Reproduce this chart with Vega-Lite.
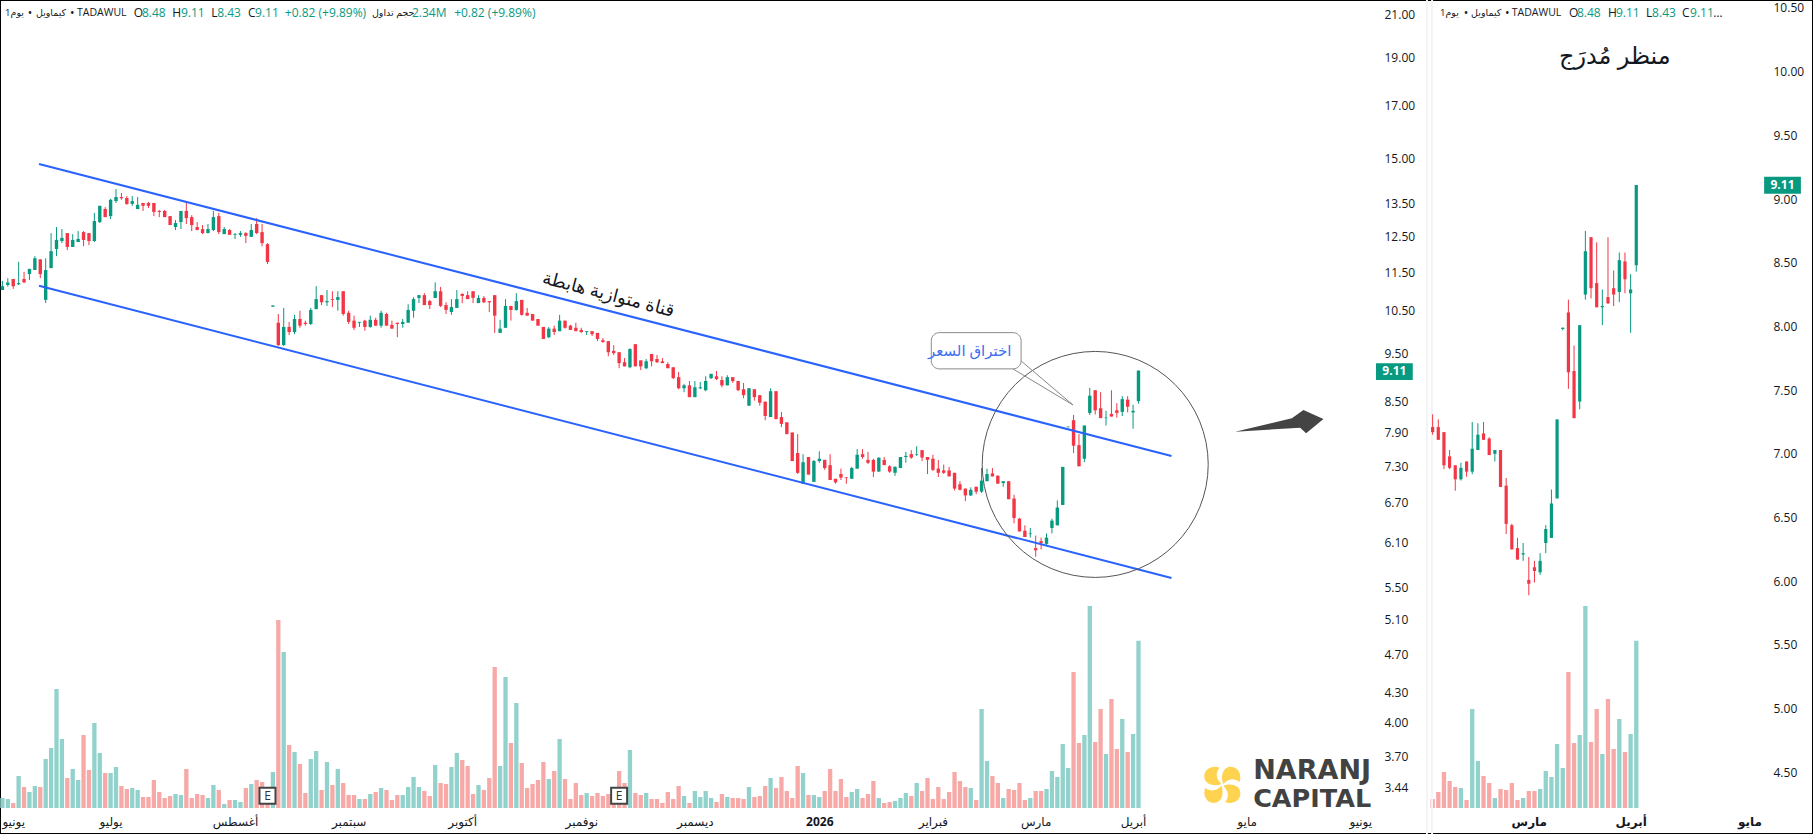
{"$schema":"https://vega.github.io/schema/vega-lite/v6.json","width":1813,"height":834,"padding":0,"autosize":{"type":"none"},"background":"white",
"config":{"font":"Open Sans, DejaVu Sans","view":{"stroke":"#000000","strokeWidth":2},"axis":{"grid":false,"domain":false,"ticks":false,"tickSize":0,"labelFont":"Open Sans, DejaVu Sans","labelFontSize":12,"labelColor":"#131722","labelOverlap":false,"labelFlush":false,"labelBound":false}},
"datasets":{"ohlc":[
{"i":0,"o":11.00,"h":11.24,"l":11.00,"c":11.10,"v":0.14},{"i":1,"o":11.13,"h":11.31,"l":11.09,"c":11.20,"v":0.126},{"i":2,"o":11.29,"h":11.29,"l":11.03,"c":11.10,"v":0.07},{"i":3,"o":11.15,"h":11.75,"l":11.13,"c":11.18,"v":0.448},{"i":4,"o":11.29,"h":11.48,"l":11.18,"c":11.20,"v":0.294},{"i":5,"o":11.42,"h":11.56,"l":11.26,"c":11.56,"v":0.224},{"i":6,"o":11.53,"h":11.91,"l":11.53,"c":11.85,"v":0.308},{"i":7,"o":11.82,"h":11.82,"l":11.31,"c":11.42,"v":0.294},{"i":8,"o":10.75,"h":11.85,"l":10.67,"c":11.53,"v":0.686},{"i":9,"o":11.58,"h":12.57,"l":11.58,"c":12.05,"v":0.84},
{"i":10,"o":12.11,"h":12.75,"l":11.91,"c":12.37,"v":1.666},{"i":11,"o":12.34,"h":12.69,"l":12.28,"c":12.43,"v":0.966},{"i":12,"o":12.57,"h":12.57,"l":12.08,"c":12.17,"v":0.42},{"i":13,"o":12.17,"h":12.54,"l":12.17,"c":12.37,"v":0.546},{"i":14,"o":12.31,"h":12.63,"l":12.31,"c":12.40,"v":0.392},{"i":15,"o":12.60,"h":12.63,"l":12.19,"c":12.37,"v":1.022},{"i":16,"o":12.57,"h":12.57,"l":12.22,"c":12.34,"v":0.532},{"i":17,"o":12.34,"h":13.18,"l":12.31,"c":12.93,"v":1.19},{"i":18,"o":12.90,"h":13.40,"l":12.87,"c":13.40,"v":0.77},{"i":19,"o":13.30,"h":13.36,"l":13.05,"c":13.05,"v":0.49},
{"i":20,"o":13.08,"h":13.62,"l":12.99,"c":13.59,"v":0.49},{"i":21,"o":13.55,"h":13.94,"l":13.49,"c":13.68,"v":0.574},{"i":22,"o":13.68,"h":13.81,"l":13.59,"c":13.64,"v":0.308},{"i":23,"o":13.65,"h":13.71,"l":13.43,"c":13.46,"v":0.266},{"i":24,"o":13.46,"h":13.71,"l":13.40,"c":13.55,"v":0.28},{"i":25,"o":13.30,"h":13.68,"l":13.30,"c":13.43,"v":0.252},{"i":26,"o":13.49,"h":13.49,"l":13.24,"c":13.40,"v":0.154},{"i":27,"o":13.49,"h":13.52,"l":13.33,"c":13.40,"v":0.154},{"i":28,"o":13.49,"h":13.49,"l":13.08,"c":13.21,"v":0.392},{"i":29,"o":13.24,"h":13.27,"l":13.05,"c":13.21,"v":0.224},
{"i":30,"o":13.24,"h":13.27,"l":13.05,"c":13.05,"v":0.14},{"i":31,"o":13.08,"h":13.08,"l":12.81,"c":12.81,"v":0.168},{"i":32,"o":12.75,"h":12.96,"l":12.66,"c":12.87,"v":0.196},{"i":33,"o":12.90,"h":13.24,"l":12.69,"c":13.24,"v":0.182},{"i":34,"o":13.24,"h":13.52,"l":12.84,"c":13.02,"v":0.546},{"i":35,"o":13.05,"h":13.11,"l":12.63,"c":12.81,"v":0.14},{"i":36,"o":12.75,"h":12.90,"l":12.66,"c":12.66,"v":0.196},{"i":37,"o":12.69,"h":12.81,"l":12.54,"c":12.57,"v":0.182},{"i":38,"o":12.57,"h":12.84,"l":12.57,"c":12.69,"v":0.14},{"i":39,"o":12.66,"h":13.24,"l":12.63,"c":13.05,"v":0.322},
{"i":40,"o":13.08,"h":13.18,"l":12.54,"c":12.60,"v":0.252},{"i":41,"o":12.54,"h":12.75,"l":12.54,"c":12.69,"v":0.056},{"i":42,"o":12.66,"h":12.69,"l":12.52,"c":12.52,"v":0.112},{"i":43,"o":12.52,"h":12.57,"l":12.40,"c":12.54,"v":0.112},{"i":44,"o":12.52,"h":12.63,"l":12.46,"c":12.57,"v":0.084},{"i":45,"o":12.57,"h":12.60,"l":12.28,"c":12.49,"v":0.28},{"i":46,"o":12.46,"h":12.84,"l":12.46,"c":12.66,"v":0.336},{"i":47,"o":12.84,"h":13.02,"l":12.54,"c":12.57,"v":0.392},{"i":48,"o":12.60,"h":12.84,"l":12.19,"c":12.28,"v":0.364},{"i":49,"o":12.25,"h":12.28,"l":11.69,"c":11.75,"v":0.275},
{"i":50,"o":10.58,"h":10.61,"l":10.58,"c":10.61,"v":0.504},{"i":51,"o":10.19,"h":10.40,"l":9.65,"c":9.67,"v":2.632},{"i":52,"o":9.67,"h":10.55,"l":9.65,"c":10.09,"v":2.184},{"i":53,"o":10.09,"h":10.21,"l":9.90,"c":9.97,"v":0.882},{"i":54,"o":9.97,"h":10.38,"l":9.92,"c":10.28,"v":0.784},{"i":55,"o":10.28,"h":10.48,"l":10.07,"c":10.12,"v":0.616},{"i":56,"o":10.19,"h":10.24,"l":10.12,"c":10.16,"v":0.21},{"i":57,"o":10.16,"h":10.55,"l":10.14,"c":10.50,"v":0.686},{"i":58,"o":10.52,"h":11.10,"l":10.52,"c":10.77,"v":0.798},{"i":59,"o":10.87,"h":10.87,"l":10.62,"c":10.69,"v":0.252},
{"i":60,"o":10.69,"h":11.00,"l":10.60,"c":10.72,"v":0.644},{"i":61,"o":10.77,"h":10.97,"l":10.57,"c":10.75,"v":0.322},{"i":62,"o":10.75,"h":10.97,"l":10.48,"c":10.82,"v":0.546},{"i":63,"o":10.97,"h":10.97,"l":10.36,"c":10.40,"v":0.35},{"i":64,"o":10.43,"h":10.48,"l":10.16,"c":10.21,"v":0.182},{"i":65,"o":10.24,"h":10.36,"l":10.02,"c":10.07,"v":0.182},{"i":66,"o":10.19,"h":10.21,"l":10.09,"c":10.21,"v":0.126},{"i":67,"o":10.24,"h":10.26,"l":10.00,"c":10.09,"v":0.126},{"i":68,"o":10.09,"h":10.36,"l":10.07,"c":10.26,"v":0.196},{"i":69,"o":10.26,"h":10.31,"l":10.12,"c":10.12,"v":0.224},
{"i":70,"o":10.12,"h":10.48,"l":10.07,"c":10.43,"v":0.28},{"i":71,"o":10.40,"h":10.43,"l":10.12,"c":10.12,"v":0.252},{"i":72,"o":10.14,"h":10.24,"l":10.05,"c":10.05,"v":0.112},{"i":73,"o":10.19,"h":10.19,"l":9.85,"c":10.16,"v":0.182},{"i":74,"o":10.16,"h":10.28,"l":10.07,"c":10.21,"v":0.182},{"i":75,"o":10.19,"h":10.64,"l":10.19,"c":10.50,"v":0.294},{"i":76,"o":10.48,"h":10.82,"l":10.31,"c":10.77,"v":0.434},{"i":77,"o":10.80,"h":10.87,"l":10.67,"c":10.87,"v":0.294},{"i":78,"o":10.87,"h":10.92,"l":10.62,"c":10.62,"v":0.238},{"i":79,"o":10.72,"h":10.75,"l":10.52,"c":10.62,"v":0.168},
{"i":80,"o":10.80,"h":11.20,"l":10.80,"c":10.97,"v":0.602},{"i":81,"o":10.97,"h":11.08,"l":10.57,"c":10.60,"v":0.35},{"i":82,"o":10.62,"h":10.69,"l":10.40,"c":10.50,"v":0.336},{"i":83,"o":10.45,"h":10.77,"l":10.38,"c":10.57,"v":0.574},{"i":84,"o":10.55,"h":11.00,"l":10.55,"c":10.77,"v":0.77},{"i":85,"o":10.90,"h":10.92,"l":10.67,"c":10.85,"v":0.672},{"i":86,"o":10.87,"h":10.97,"l":10.77,"c":10.77,"v":0.588},{"i":87,"o":10.97,"h":10.97,"l":10.67,"c":10.80,"v":0.196},{"i":88,"o":10.67,"h":10.87,"l":10.67,"c":10.80,"v":0.322},{"i":89,"o":10.80,"h":10.85,"l":10.67,"c":10.69,"v":0.252},
{"i":90,"o":10.72,"h":10.72,"l":10.45,"c":10.69,"v":0.42},{"i":91,"o":10.87,"h":10.87,"l":9.95,"c":10.36,"v":1.974},{"i":92,"o":9.95,"h":10.26,"l":9.95,"c":10.05,"v":0.588},{"i":93,"o":10.07,"h":10.77,"l":10.07,"c":10.60,"v":1.834},{"i":94,"o":10.60,"h":10.60,"l":10.24,"c":10.50,"v":0.91},{"i":95,"o":10.50,"h":10.92,"l":10.48,"c":10.72,"v":1.47},{"i":96,"o":10.75,"h":10.75,"l":10.36,"c":10.38,"v":0.63},{"i":97,"o":10.43,"h":10.55,"l":10.36,"c":10.36,"v":0.28},{"i":98,"o":10.40,"h":10.40,"l":10.24,"c":10.24,"v":0.336},{"i":99,"o":10.28,"h":10.28,"l":10.12,"c":10.12,"v":0.392},
{"i":100,"o":10.09,"h":10.09,"l":9.81,"c":9.81,"v":0.644},{"i":101,"o":9.85,"h":10.09,"l":9.83,"c":10.05,"v":0.406},{"i":102,"o":10.05,"h":10.12,"l":9.90,"c":9.97,"v":0.518},{"i":103,"o":9.99,"h":10.38,"l":9.99,"c":10.24,"v":0.966},{"i":104,"o":10.24,"h":10.24,"l":10.05,"c":10.07,"v":0.406},{"i":105,"o":10.12,"h":10.14,"l":10.02,"c":10.02,"v":0.126},{"i":106,"o":10.07,"h":10.19,"l":9.99,"c":9.99,"v":0.35},{"i":107,"o":10.02,"h":10.07,"l":9.95,"c":9.97,"v":0.182},{"i":108,"o":9.97,"h":9.99,"l":9.90,"c":9.99,"v":0.21},{"i":109,"o":9.99,"h":9.99,"l":9.88,"c":9.92,"v":0.168},
{"i":110,"o":9.95,"h":9.95,"l":9.76,"c":9.81,"v":0.21},{"i":111,"o":9.78,"h":9.83,"l":9.72,"c":9.74,"v":0.168},{"i":112,"o":9.76,"h":9.76,"l":9.42,"c":9.51,"v":0.196},{"i":113,"o":9.54,"h":9.67,"l":9.45,"c":9.49,"v":0.065},{"i":114,"o":9.51,"h":9.51,"l":9.16,"c":9.27,"v":0.518},{"i":115,"o":9.29,"h":9.38,"l":9.20,"c":9.20,"v":0.35},{"i":116,"o":9.18,"h":9.60,"l":9.16,"c":9.58,"v":0.812},{"i":117,"o":9.69,"h":9.69,"l":9.20,"c":9.20,"v":0.21},{"i":118,"o":9.33,"h":9.33,"l":9.12,"c":9.20,"v":0.182},{"i":119,"o":9.16,"h":9.36,"l":9.14,"c":9.31,"v":0.21},
{"i":120,"o":9.47,"h":9.47,"l":9.20,"c":9.31,"v":0.126},{"i":121,"o":9.36,"h":9.45,"l":9.27,"c":9.29,"v":0.126},{"i":122,"o":9.31,"h":9.38,"l":9.27,"c":9.27,"v":0.07},{"i":123,"o":9.25,"h":9.29,"l":9.16,"c":9.16,"v":0.224},{"i":124,"o":9.18,"h":9.18,"l":8.93,"c":8.95,"v":0.126},{"i":125,"o":8.97,"h":9.08,"l":8.72,"c":8.74,"v":0.308},{"i":126,"o":8.74,"h":8.83,"l":8.66,"c":8.80,"v":0.168},{"i":127,"o":8.80,"h":8.89,"l":8.56,"c":8.56,"v":0.07},{"i":128,"o":8.56,"h":8.89,"l":8.56,"c":8.76,"v":0.238},{"i":129,"o":8.74,"h":8.87,"l":8.72,"c":8.76,"v":0.154},
{"i":130,"o":8.70,"h":8.99,"l":8.68,"c":8.89,"v":0.238},{"i":131,"o":8.95,"h":9.04,"l":8.93,"c":9.04,"v":0.14},{"i":132,"o":8.99,"h":9.10,"l":8.91,"c":8.93,"v":0.084},{"i":133,"o":8.91,"h":8.99,"l":8.76,"c":8.80,"v":0.196},{"i":134,"o":8.80,"h":9.01,"l":8.80,"c":8.97,"v":0.154},{"i":135,"o":8.97,"h":8.97,"l":8.85,"c":8.89,"v":0.14},{"i":136,"o":8.89,"h":8.89,"l":8.68,"c":8.70,"v":0.14},{"i":137,"o":8.72,"h":8.85,"l":8.54,"c":8.60,"v":0.126},{"i":138,"o":8.39,"h":8.74,"l":8.39,"c":8.74,"v":0.294},{"i":139,"o":8.72,"h":8.72,"l":8.49,"c":8.56,"v":0.154},
{"i":140,"o":8.60,"h":8.60,"l":8.39,"c":8.45,"v":0.168},{"i":141,"o":8.47,"h":8.47,"l":8.11,"c":8.19,"v":0.308},{"i":142,"o":8.17,"h":8.74,"l":8.17,"c":8.68,"v":0.42},{"i":143,"o":8.68,"h":8.68,"l":8.13,"c":8.13,"v":0.28},{"i":144,"o":8.17,"h":8.27,"l":7.98,"c":8.04,"v":0.434},{"i":145,"o":8.07,"h":8.07,"l":7.85,"c":7.85,"v":0.238},{"i":146,"o":7.88,"h":7.88,"l":7.37,"c":7.37,"v":0.14},{"i":147,"o":7.51,"h":7.85,"l":7.15,"c":7.17,"v":0.588},{"i":148,"o":6.99,"h":7.49,"l":6.99,"c":7.35,"v":0.49},{"i":149,"o":7.44,"h":7.44,"l":7.14,"c":7.14,"v":0.182},
{"i":150,"o":7.02,"h":7.39,"l":7.02,"c":7.37,"v":0.182},{"i":151,"o":7.37,"h":7.54,"l":7.34,"c":7.41,"v":0.154},{"i":152,"o":7.39,"h":7.39,"l":7.22,"c":7.25,"v":0.238},{"i":153,"o":7.30,"h":7.49,"l":7.05,"c":7.05,"v":0.546},{"i":154,"o":7.07,"h":7.07,"l":6.99,"c":7.01,"v":0.238},{"i":155,"o":7.15,"h":7.24,"l":7.05,"c":7.09,"v":0.406},{"i":156,"o":7.10,"h":7.10,"l":6.99,"c":7.09,"v":0.154},{"i":157,"o":7.07,"h":7.27,"l":7.07,"c":7.25,"v":0.224},{"i":158,"o":7.24,"h":7.58,"l":7.24,"c":7.48,"v":0.266},{"i":159,"o":7.49,"h":7.58,"l":7.41,"c":7.44,"v":0.14},
{"i":160,"o":7.39,"h":7.53,"l":7.32,"c":7.34,"v":0.196},{"i":161,"o":7.39,"h":7.41,"l":7.10,"c":7.19,"v":0.378},{"i":162,"o":7.19,"h":7.43,"l":7.19,"c":7.43,"v":0.14},{"i":163,"o":7.39,"h":7.44,"l":7.30,"c":7.30,"v":0.07},{"i":164,"o":7.28,"h":7.30,"l":7.17,"c":7.19,"v":0.084},{"i":165,"o":7.17,"h":7.28,"l":7.12,"c":7.27,"v":0.098},{"i":166,"o":7.25,"h":7.44,"l":7.25,"c":7.44,"v":0.14},{"i":167,"o":7.44,"h":7.53,"l":7.34,"c":7.46,"v":0.21},{"i":168,"o":7.49,"h":7.56,"l":7.41,"c":7.43,"v":0.168},{"i":169,"o":7.48,"h":7.63,"l":7.46,"c":7.49,"v":0.35},
{"i":170,"o":7.56,"h":7.56,"l":7.37,"c":7.43,"v":0.238},{"i":171,"o":7.44,"h":7.44,"l":7.15,"c":7.39,"v":0.42},{"i":172,"o":7.41,"h":7.48,"l":7.20,"c":7.22,"v":0.126},{"i":173,"o":7.24,"h":7.39,"l":7.10,"c":7.17,"v":0.294},{"i":174,"o":7.21,"h":7.31,"l":7.15,"c":7.17,"v":0.126},{"i":175,"o":7.21,"h":7.27,"l":7.11,"c":7.11,"v":0.224},{"i":176,"o":7.17,"h":7.17,"l":6.88,"c":6.91,"v":0.504},{"i":177,"o":6.98,"h":7.03,"l":6.88,"c":6.89,"v":0.378},{"i":178,"o":6.91,"h":6.91,"l":6.71,"c":6.80,"v":0.294},{"i":179,"o":6.80,"h":6.93,"l":6.79,"c":6.89,"v":0.28},
{"i":180,"o":6.94,"h":6.94,"l":6.82,"c":6.86,"v":0.112},{"i":181,"o":6.86,"h":7.25,"l":6.84,"c":7.04,"v":1.386},{"i":182,"o":7.03,"h":7.24,"l":7.03,"c":7.15,"v":0.658},{"i":183,"o":7.16,"h":7.25,"l":7.11,"c":7.11,"v":0.448},{"i":184,"o":7.12,"h":7.13,"l":6.99,"c":6.99,"v":0.35},{"i":185,"o":7.00,"h":7.03,"l":6.94,"c":7.03,"v":0.14},{"i":186,"o":7.03,"h":7.03,"l":6.74,"c":6.74,"v":0.266},{"i":187,"o":6.75,"h":6.81,"l":6.37,"c":6.45,"v":0.252},{"i":188,"o":6.44,"h":6.45,"l":6.25,"c":6.25,"v":0.35},{"i":189,"o":6.26,"h":6.34,"l":6.17,"c":6.17,"v":0.112},
{"i":190,"o":6.21,"h":6.30,"l":6.16,"c":6.22,"v":0.14},{"i":191,"o":6.01,"h":6.19,"l":5.89,"c":5.98,"v":0.238},{"i":192,"o":6.11,"h":6.16,"l":5.99,"c":6.08,"v":0.238},{"i":193,"o":6.07,"h":6.22,"l":6.05,"c":6.16,"v":0.266},{"i":194,"o":6.30,"h":6.44,"l":6.22,"c":6.41,"v":0.518},{"i":195,"o":6.34,"h":6.72,"l":6.34,"c":6.61,"v":0.434},{"i":196,"o":6.65,"h":7.27,"l":6.65,"c":7.27,"v":0.896},{"i":197,"o":7.98,"h":7.99,"l":7.97,"c":7.99,"v":0.56},{"i":198,"o":8.11,"h":8.21,"l":7.51,"c":7.64,"v":1.904},{"i":199,"o":7.65,"h":7.85,"l":7.28,"c":7.28,"v":0.91},
{"i":200,"o":7.41,"h":8.01,"l":7.35,"c":8.01,"v":1.022},{"i":201,"o":8.25,"h":8.75,"l":8.21,"c":8.59,"v":2.828},{"i":202,"o":8.70,"h":8.70,"l":8.22,"c":8.30,"v":0.924},{"i":203,"o":8.34,"h":8.66,"l":8.15,"c":8.15,"v":1.386},{"i":204,"o":8.15,"h":8.29,"l":8.01,"c":8.16,"v":0.756},{"i":205,"o":8.23,"h":8.70,"l":8.18,"c":8.18,"v":1.526},{"i":206,"o":8.30,"h":8.44,"l":8.16,"c":8.25,"v":0.826},{"i":207,"o":8.27,"h":8.58,"l":8.19,"c":8.52,"v":1.246},{"i":208,"o":8.51,"h":8.58,"l":8.26,"c":8.37,"v":0.784},{"i":209,"o":8.26,"h":8.41,"l":7.95,"c":8.29,"v":1.036},
{"i":210,"o":8.48,"h":9.11,"l":8.43,"c":9.11,"v":2.34}],
"upper":[{"i":6.77,"p":14.78},{"i":216.1,"p":7.459}],
"lower":[{"i":6.77,"p":11.11},{"i":216.1,"p":5.605}],
"hdrL":[{"label":"1يوم","i":0.5,"p":21.05,"kind":"ar"},{"label":"•","i":4.7,"p":21.05,"kind":"name"},{"label":"كيماويل","i":6.2,"p":21.05,"kind":"ar"},{"label":"•","i":12.5,"p":21.05,"kind":"name"},{"label":"TADAWUL","i":13.8,"p":21.05,"kind":"ticker"},{"label":"O","i":24.3,"p":21.05,"kind":"name"},{"label":"8.48","i":25.8,"p":21.05,"kind":"value"},{"label":"H","i":31.4,"p":21.05,"kind":"name"},{"label":"9.11","i":33.0,"p":21.05,"kind":"value"},{"label":"L","i":38.6,"p":21.05,"kind":"name"},{"label":"8.43","i":39.7,"p":21.05,"kind":"value"},{"label":"C","i":45.4,"p":21.05,"kind":"name"},{"label":"9.11","i":46.7,"p":21.05,"kind":"value"},{"label":"+0.82 (+9.89%)","i":52.2,"p":21.05,"kind":"value"},{"label":"حجم تداول","i":68.3,"p":21.05,"kind":"ar"},{"label":"2.34M","i":75.7,"p":21.05,"kind":"value"},{"label":"+0.82 (+9.89%)","i":83.5,"p":21.05,"kind":"value"}],
"hdrR":[{"label":"1يوم","i":175.3,"p":10.46,"kind":"ar"},{"label":"•","i":179.5,"p":10.46,"kind":"name"},{"label":"كيماويل","i":180.8,"p":10.46,"kind":"ar"},{"label":"•","i":186.8,"p":10.46,"kind":"name"},{"label":"TADAWUL","i":188.0,"p":10.46,"kind":"ticker"},{"label":"O","i":198.1,"p":10.46,"kind":"name"},{"label":"8.48","i":199.5,"p":10.46,"kind":"value"},{"label":"H","i":205.0,"p":10.46,"kind":"name"},{"label":"9.11","i":206.4,"p":10.46,"kind":"value"},{"label":"L","i":211.7,"p":10.46,"kind":"name"},{"label":"8.43","i":212.8,"p":10.46,"kind":"value"},{"label":"C","i":218.1,"p":10.46,"kind":"name"},{"label":"9.11","i":219.5,"p":10.46,"kind":"value"},{"label":"…","i":223.6,"p":10.46,"kind":"name"}],
"earn":[{"i":49,"p":3.366,"label":"E"},{"i":114,"p":3.366,"label":"E"}],
"tail":[{"k":1,"i":188.3,"p":9.318},{"k":2,"i":197.9,"p":8.404},{"k":3,"i":186.8,"p":9.146}]
},
"resolve":{"scale":{"x":"independent","y":"independent"}},
"layer":[
{"data":{"name":"ohlc"},"mark":{"type":"bar","orient":"vertical","size":4.3},"encoding":{"x":{"field":"i","type":"quantitative","scale":{"domain":[0,252],"range":[2.4,1365.7],"padding":0,"nice":false,"zero":false},"axis":{"orient":"bottom","offset":-26,"title":null,"labelPadding":8,"values":[2,20,43,64,85,107,128,151,172,191,209,230,251],"labelFontWeight":{"condition":{"test":"datum.value==151","value":"bold"},"value":"normal"},"labelExpr":"datum.value==2?'يونيو':datum.value==20?'يوليو':datum.value==43?'أغسطس':datum.value==64?'سبتمبر':datum.value==85?'أكتوبر':datum.value==107?'نوفمبر':datum.value==128?'ديسمبر':datum.value==151?'2026':datum.value==172?'فبراير':datum.value==191?'مارس':datum.value==209?'أبريل':datum.value==230?'مايو':'يونيو'"}},"y":{"field":"v","type":"quantitative","stack":null,"scale":{"domain":[0,11.31],"range":[808,0],"nice":false},"axis":null},"color":{"condition":{"test":"datum.c>=datum.o","value":"#92d2cc"},"value":"#f7a9a7"}}},
{"data":{"name":"ohlc"},"transform":[{"filter":"datum.i>=174"}],"mark":{"type":"bar","orient":"vertical","size":4.3},"encoding":{"x":{"field":"i","type":"quantitative","scale":{"domain":[170,270],"range":[1410,1975.7],"padding":0,"nice":false,"zero":false},"axis":{"orient":"bottom","offset":-26,"title":null,"labelPadding":8,"labelFontWeight":"bold","values":[191,209,230],"labelExpr":"datum.value==191?'مارس':datum.value==209?'أبريل':'مايو'"}},"y":{"field":"v","type":"quantitative","stack":null,"scale":{"domain":[0,11.31],"range":[808,0],"nice":false},"axis":null},"color":{"condition":{"test":"datum.c>=datum.o","value":"#92d2cc"},"value":"#f7a9a7"}}},
{"data":{"name":"ohlc"},"mark":{"type":"rule","opacity":0},"encoding":{"x":{"field":"i","type":"quantitative","scale":{"domain":[0,252],"range":[2.4,1365.7],"padding":0,"nice":false,"zero":false},"axis":null},"y":{"field":"h","type":"quantitative","scale":{"type":"log","domain":[3.27,21.7],"range":[808,0],"nice":false},"axis":{"orient":"right","offset":-432,"title":null,"labelPadding":3,"labelOffset":1,"labelAlign":"left","format":".2f","values":[3.44,3.7,4,4.3,4.7,5.1,5.5,6.1,6.7,7.3,7.9,8.5,9.5,10.5,11.5,12.5,13.5,15,17,19,21]}}}},
{"data":{"name":"ohlc"},"mark":{"type":"rule","opacity":0},"encoding":{"x":{"field":"i","type":"quantitative","scale":{"domain":[170,270],"range":[1410,1975.7],"padding":0,"nice":false,"zero":false},"axis":null},"y":{"field":"h","type":"quantitative","scale":{"domain":[4.22,10.562],"range":[808,0],"nice":false,"zero":false},"axis":{"orient":"right","offset":-45,"title":null,"labelPadding":5,"labelAlign":"left","format":".2f","values":[4.5,5,5.5,6,6.5,7,7.5,8,8.5,9,9.5,10,10.5]}}}},
{"layer":[
{"data":{"name":"ohlc"},"mark":{"type":"rule","strokeWidth":1},"encoding":{"x":{"field":"i","type":"quantitative","scale":{"domain":[0,252],"range":[2.4,1365.7],"padding":0,"nice":false,"zero":false},"axis":null},"y":{"field":"h","type":"quantitative","scale":{"type":"log","domain":[3.27,21.7],"range":[808,0],"nice":false},"axis":null},"y2":{"field":"l"},"color":{"condition":{"test":"datum.c>=datum.o","value":"#089981"},"value":"#f23645"}}},
{"data":{"name":"ohlc"},"mark":{"type":"bar","orient":"vertical","size":3.4},"encoding":{"x":{"field":"i","type":"quantitative","axis":null},"y":{"field":"o","type":"quantitative","stack":null,"axis":null},"y2":{"field":"c"},"color":{"condition":{"test":"datum.c>=datum.o","value":"#089981"},"value":"#f23645"}}},
{"data":{"name":"upper"},"mark":{"type":"line","color":"#2962ff","strokeWidth":2},"encoding":{"x":{"field":"i","type":"quantitative","axis":null},"y":{"field":"p","type":"quantitative","axis":null}}},
{"data":{"name":"lower"},"mark":{"type":"line","color":"#2962ff","strokeWidth":2},"encoding":{"x":{"field":"i","type":"quantitative","axis":null},"y":{"field":"p","type":"quantitative","axis":null}}},
{"data":{"values":[{"i":202.0,"p":7.312}]},"mark":{"type":"point","shape":"circle","size":51076,"filled":false,"stroke":"#555555","strokeWidth":1,"opacity":1},"encoding":{"x":{"field":"i","type":"quantitative","axis":null},"y":{"field":"p","type":"quantitative","axis":null}}},
{"data":{"values":[{"a":171.7,"b":188.3,"p1":9.956,"p2":9.146}]},"mark":{"type":"bar","orient":"vertical","fill":"#ffffff","stroke":"#8a8a8a","strokeWidth":1,"cornerRadius":8},"encoding":{"x":{"field":"a","type":"quantitative","axis":null},"x2":{"field":"b"},"y":{"field":"p1","type":"quantitative","stack":null,"axis":null},"y2":{"field":"p2"}}},
{"data":{"name":"tail"},"mark":{"type":"line","color":"#888888","strokeWidth":1},"encoding":{"x":{"field":"i","type":"quantitative","axis":null},"y":{"field":"p","type":"quantitative","axis":null},"order":{"field":"k"}}},
{"data":{"values":[{"i":178.8,"p":9.54,"label":"اختراق السعر"}]},"mark":{"type":"text","fontSize":15,"color":"#3d6ff0","baseline":"middle","align":"center"},"encoding":{"x":{"field":"i","type":"quantitative","axis":null},"y":{"field":"p","type":"quantitative","axis":null},"text":{"field":"label"}}},
{"data":{"values":[{"i":112,"p":10.87,"label":"قناة متوازية هابطة"}]},"mark":{"type":"text","fontSize":18,"angle":14.5,"color":"#131722","baseline":"middle","align":"center"},"encoding":{"x":{"field":"i","type":"quantitative","axis":null},"y":{"field":"p","type":"quantitative","axis":null},"text":{"field":"label"}}},
{"data":{"name":"earn"},"mark":{"type":"point","shape":"square","size":256,"filled":true,"fill":"#ffffff","stroke":"#444444","strokeWidth":2,"opacity":1},"encoding":{"x":{"field":"i","type":"quantitative","axis":null},"y":{"field":"p","type":"quantitative","axis":null}}},
{"data":{"name":"earn"},"mark":{"type":"text","fontSize":12,"color":"#333333","baseline":"middle","align":"center"},"encoding":{"x":{"field":"i","type":"quantitative","axis":null},"y":{"field":"p","type":"quantitative","axis":null},"text":{"field":"label"}}},
{"data":{"values":[{"i":236.0,"p":8.02}]},"mark":{"type":"point","shape":"M-1 .152L.289 -.152L.552 -.341L1.007 -.136L.614 .189L.477 .061Z","size":7744,"filled":true,"fill":"#444444","strokeWidth":0,"opacity":1},"encoding":{"x":{"field":"i","type":"quantitative","axis":null},"y":{"field":"p","type":"quantitative","axis":null}}},
{"data":{"values":[{"i":225.5,"p":3.452}]},"mark":{"type":"point","shape":"M.05 -.05C-.1 -.4 0 -.95 .45 -.95C.85 -.95 1.05 -.5 .9 -.15C.6 -.4 .3 -.3 .05 -.05ZM.05 .05C.4 -.1 .95 0 .95 .45C.95 .85 .5 1.05 .15 .9C.4 .6 .3 .3 .05 .05ZM-.05 .05C.1 .4 0 .95 -.45 .95C-.85 .95 -1.05 .5 -.9 .15C-.6 .4 -.3 .3 -.05 .05ZM-.05 -.05C-.4 .1 -.95 0 -.95 -.45C-.95 -.85 -.5 -1.05 -.15 -.9C-.4 -.6 -.3 -.3 -.05 -.05Z","size":1444,"filled":true,"fill":"#fdd34f","strokeWidth":0,"opacity":1},"encoding":{"x":{"field":"i","type":"quantitative","axis":null},"y":{"field":"p","type":"quantitative","axis":null}}},
{"data":{"values":[{"i":242.1,"p":3.566,"label":"NARANJ"}]},"mark":{"type":"text","font":"DejaVu Sans","fontWeight":"bold","fontSize":27,"color":"#424242","baseline":"middle","align":"center"},"encoding":{"x":{"field":"i","type":"quantitative","axis":null},"y":{"field":"p","type":"quantitative","axis":null},"text":{"field":"label"}}},
{"data":{"values":[{"i":242.1,"p":3.341,"label":"CAPITAL"}]},"mark":{"type":"text","font":"DejaVu Sans","fontWeight":"bold","fontSize":25.5,"color":"#424242","baseline":"middle","align":"center"},"encoding":{"x":{"field":"i","type":"quantitative","axis":null},"y":{"field":"p","type":"quantitative","axis":null},"text":{"field":"label"}}},
{"data":{"values":[{"a":253.9,"b":260.7,"p1":9.27,"p2":8.91}]},"mark":{"type":"bar","orient":"vertical","fill":"#089981"},"encoding":{"x":{"field":"a","type":"quantitative","axis":null},"x2":{"field":"b"},"y":{"field":"p1","type":"quantitative","stack":null,"axis":null},"y2":{"field":"p2"}}},
{"data":{"values":[{"i":257.3,"p":9.11,"label":"9.11"}]},"mark":{"type":"text","fontSize":12,"fontWeight":"bold","color":"#ffffff","baseline":"middle","align":"center"},"encoding":{"x":{"field":"i","type":"quantitative","axis":null},"y":{"field":"p","type":"quantitative","axis":null},"text":{"field":"label"}}},
{"data":{"name":"hdrL"},"mark":{"type":"text","align":"left","baseline":"middle"},"encoding":{"x":{"field":"i","type":"quantitative","axis":null},"y":{"field":"p","type":"quantitative","axis":null},"text":{"field":"label"},"size":{"condition":[{"test":"datum.kind=='ar'","value":9.5},{"test":"datum.kind=='ticker'","value":10.5}],"value":12},"color":{"condition":{"test":"datum.kind=='value'","value":"#089981"},"value":"#131722"}}}
]},
{"layer":[
{"data":{"values":[{"i":173.0},{"i":173.9}]},"mark":{"type":"rule","color":"#f3f4f6","strokeWidth":2},"encoding":{"x":{"field":"i","type":"quantitative","axis":null}}},
{"data":{"name":"ohlc"},"transform":[{"filter":"datum.i>=174"}],"mark":{"type":"rule","strokeWidth":1},"encoding":{"x":{"field":"i","type":"quantitative","scale":{"domain":[170,270],"range":[1410,1975.7],"padding":0,"nice":false,"zero":false},"axis":null},"y":{"field":"h","type":"quantitative","scale":{"domain":[4.22,10.562],"range":[808,0],"nice":false,"zero":false},"axis":null},"y2":{"field":"l"},"color":{"condition":{"test":"datum.c>=datum.o","value":"#089981"},"value":"#f23645"}}},
{"data":{"name":"ohlc"},"transform":[{"filter":"datum.i>=174"}],"mark":{"type":"bar","orient":"vertical","size":3.2},"encoding":{"x":{"field":"i","type":"quantitative","axis":null},"y":{"field":"o","type":"quantitative","stack":null,"axis":null},"y2":{"field":"c"},"color":{"condition":{"test":"datum.c>=datum.o","value":"#089981"},"value":"#f23645"}}},
{"data":{"values":[{"a":232.6,"b":239.1,"p1":9.175,"p2":9.042}]},"mark":{"type":"bar","orient":"vertical","fill":"#089981"},"encoding":{"x":{"field":"a","type":"quantitative","axis":null},"x2":{"field":"b"},"y":{"field":"p1","type":"quantitative","stack":null,"axis":null},"y2":{"field":"p2"}}},
{"data":{"values":[{"i":235.85,"p":9.11,"label":"9.11"}]},"mark":{"type":"text","fontSize":12,"fontWeight":"bold","color":"#ffffff","baseline":"middle","align":"center"},"encoding":{"x":{"field":"i","type":"quantitative","axis":null},"y":{"field":"p","type":"quantitative","axis":null},"text":{"field":"label"}}},
{"data":{"values":[{"i":206.2,"p":10.115,"label":"منظر مُدرَج"}]},"mark":{"type":"text","fontSize":24,"color":"#131722","baseline":"middle","align":"center"},"encoding":{"x":{"field":"i","type":"quantitative","axis":null},"y":{"field":"p","type":"quantitative","axis":null},"text":{"field":"label"}}},
{"data":{"name":"hdrR"},"mark":{"type":"text","align":"left","baseline":"middle"},"encoding":{"x":{"field":"i","type":"quantitative","axis":null},"y":{"field":"p","type":"quantitative","axis":null},"text":{"field":"label"},"size":{"condition":[{"test":"datum.kind=='ar'","value":9.5},{"test":"datum.kind=='ticker'","value":10.5}],"value":12},"color":{"condition":{"test":"datum.kind=='value'","value":"#089981"},"value":"#131722"}}}
]}
]}
